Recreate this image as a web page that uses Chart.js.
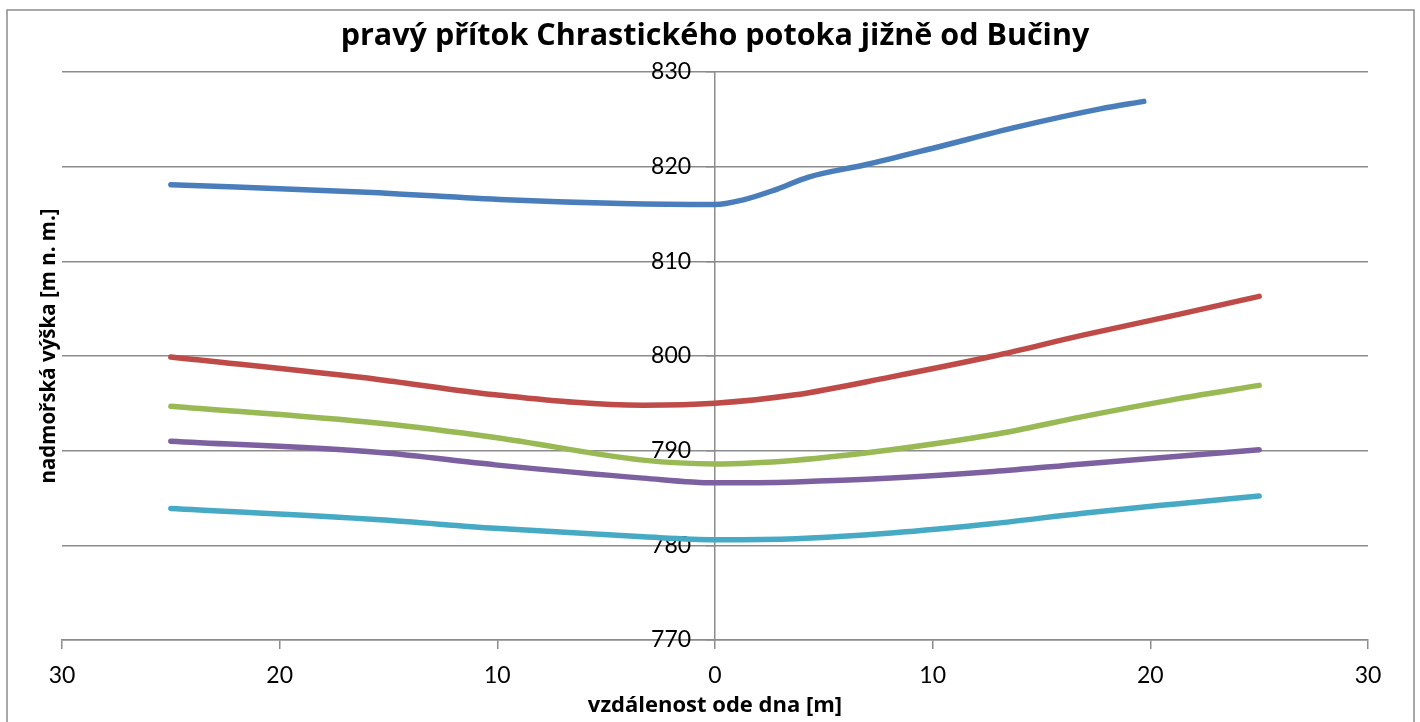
<!DOCTYPE html>
<html>
<head>
<meta charset="utf-8">
<script src="https://cdn.jsdelivr.net/npm/chart.js@4.4.1/dist/chart.umd.min.js"></script>
<style>
  html, body { margin: 0; padding: 0; background: #fff; }
  #wrap { width: 1420px; height: 722px; }
</style>
</head>
<body>
<div id="wrap"><canvas id="c"></canvas></div>
<script>
// distance from the stream bed [m], negative = left bank
const topDist = [-25, -16, -9.6, -4.3, 0, 1.3, 2.7, 4.3, 6.9, 10.1, 13.9, 17.7, 19.7];
const topAlt = [818.1, 817.3, 816.5, 816.1, 816.0, 816.5, 817.5, 818.9, 820.2, 822.0, 824.2, 826.1, 826.9];

const profDist = [-25, -15.4, -10.1, -3.3, 0, 3.7, 8.1, 12.8, 16.9, 21.3, 25];
const redAlt = [799.9, 797.5, 795.9, 794.8, 795.0, 795.9, 797.8, 800.0, 802.2, 804.4, 806.3];
const greenAlt = [794.7, 792.9, 791.4, 789.0, 788.6, 789.0, 790.1, 791.7, 793.6, 795.5, 796.9];
const purpleAlt = [791.0, 789.8, 788.5, 787.1, 786.6, 786.7, 787.1, 787.8, 788.6, 789.4, 790.1];
const cyanAlt = [783.9, 782.7, 781.8, 780.9, 780.6, 780.7, 781.3, 782.3, 783.4, 784.4, 785.2];

const xTicks = [-30, -20, -10, 0, 10, 20, 30];
const yTicks = [770, 780, 790, 800, 810, 820, 830];

const titleText = "pravý přítok Chrastického potoka jižně od Bučiny";
const xTitle = "vzdálenost ode dna [m]";
const yTitle = "nadmořská výška [m n. m.]";

function pts(xs, ys) {
    return xs.map((x, i) => ({x: x, y: ys[i]}));
}

function line(label, xs, ys, color) {
    return {
        label: label,
        data: pts(xs, ys),
        showLine: true,
        borderColor: color,
        backgroundColor: color,
        borderWidth: 5.5,
        borderCapStyle: "round",
        pointRadius: 0,
        cubicInterpolationMode: "monotone"
    };
}

const gray = "#8c8c8c";
const fontFam = "Lato, 'Open Sans', sans-serif";
const boldFam = "'Open Sans', Lato, sans-serif";

// frame + rotated y title
const decor = {
    id: "decor",
    afterDraw(chart) {
        const ctx = chart.ctx;
        ctx.save();
        ctx.strokeStyle = gray;
        ctx.lineWidth = 1.5;
        ctx.strokeRect(7, 10, 1407, 740);
        ctx.translate(49, 346);
        ctx.rotate(-Math.PI / 2);
        ctx.fillStyle = "#000";
        ctx.font = "bold 20.5px " + boldFam;
        ctx.textAlign = "center";
        ctx.textBaseline = "middle";
        ctx.fillText(yTitle, 0, 0);
        ctx.restore();
    }
};

const yRange = { type: "linear", min: yTicks[0], max: yTicks[yTicks.length - 1] };

new Chart("c", {
    type: "scatter",
    data: {
        datasets: [
            line("profil 1", topDist, topAlt, "#4a7ebb"),
            line("profil 2", profDist, redAlt, "#be4b48"),
            line("profil 3", profDist, greenAlt, "#98b954"),
            line("profil 4", profDist, purpleAlt, "#7d60a0"),
            line("profil 5", profDist, cyanAlt, "#46aac5")
        ]
    },
    options: {
        responsive: true,
        maintainAspectRatio: false,
        animation: false,
        layout: { padding: { left: 62, right: 52, top: 0, bottom: 0 } },
        plugins: {
            legend: { display: false },
            tooltip: { enabled: false },
            title: {
                display: true,
                text: titleText,
                color: "#000",
                font: { family: boldFam, size: 30.5, weight: "bold" },
                padding: { top: 18, bottom: 17.4 }
            }
        },
        scales: {
            x: {
                type: "linear",
                min: xTicks[0],
                max: xTicks[xTicks.length - 1],
                afterBuildTicks: s => { s.ticks = xTicks.map(v => ({value: v})); },
                afterFit: s => { s.height = 82; },
                grid: { drawOnChartArea: false, color: gray, lineWidth: 1.5, tickLength: 9 },
                border: { color: gray, width: 1.5 },
                ticks: {
                    color: "#000",
                    font: { family: fontFam, size: 23 },
                    padding: 13,
                    maxRotation: 0,
                    callback: v => Math.abs(v)
                },
                title: {
                    display: true,
                    text: xTitle,
                    color: "#000",
                    font: { family: boldFam, size: 22, weight: "bold" },
                    padding: { top: 0, bottom: 3 }
                }
            },
            // value axis line + gridlines, crossing at distance 0
            y: {
                ...yRange,
                position: { x: 0 },
                afterBuildTicks: s => { s.ticks = yTicks.map(v => ({value: v})); },
                grid: { color: gray, lineWidth: 1.5, tickLength: 8 },
                border: { color: gray, width: 1.5 },
                ticks: { display: false }
            },
            // its labels, set a little to the left of the axis line
            yLabels: {
                ...yRange,
                axis: "y",
                position: { x: -1.1 },
                afterBuildTicks: s => { s.ticks = yTicks.map(v => ({value: v})); },
                grid: { display: false },
                border: { display: false },
                ticks: {
                    color: "#000",
                    font: { family: fontFam, size: 23 },
                    padding: 0
                }
            }
        }
    },
    plugins: [decor]
});
</script>
</body>
</html>
